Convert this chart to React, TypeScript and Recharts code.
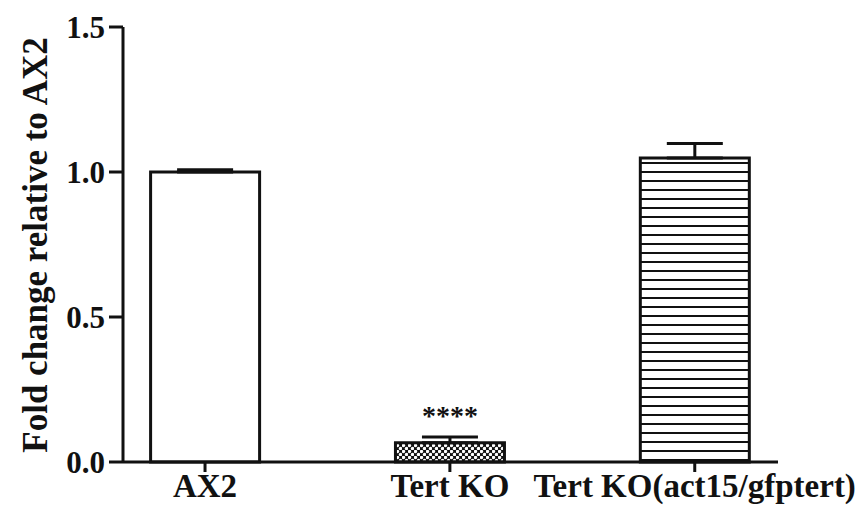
import React from 'react';
import {
  BarChart,
  Bar,
  XAxis,
  YAxis,
  ErrorBar,
  LabelList,
  Label,
} from 'recharts';

// Fold change (qPCR) per strain
const strains = ['AX2', 'Tert KO', 'Tert KO(act15/gfptert)'];
const foldChange = [1.0, 0.066, 1.048];
const sem = [0.008, 0.02, 0.05];
const significance = ['', '****', ''];
const fills = ['#ffffff', 'url(#checker)', 'url(#hlines)'];
const yTicks = [0, 0.5, 1.0, 1.5];

const data = strains.map((name, i) => ({
  pos: i,
  name,
  value: foldChange[i],
  err: [0, sem[i]],
  sig: significance[i],
  fill: fills[i],
}));

const FONT = '"Liberation Serif", "Times New Roman", serif';
const INK = '#111111';

export default function App() {
  return (
    <div style={{ position: 'absolute', left: 0, top: 0, background: '#fff' }}>
      <BarChart
        width={865}
        height={515}
        data={data}
        margin={{ top: 27, right: 87, bottom: 0, left: 0 }}
      >
        <defs>
          <pattern id="checker" width="6" height="6" patternUnits="userSpaceOnUse">
            <rect width="6" height="6" fill="#111" />
            <circle cx="1.5" cy="1.5" r="1.7" fill="#fff" />
            <circle cx="4.5" cy="4.5" r="1.7" fill="#fff" />
          </pattern>
          <pattern id="hlines" width="10" height="9" patternUnits="userSpaceOnUse">
            <rect width="10" height="9" fill="#fff" />
            <rect y="0" width="10" height="2" fill="#111" />
          </pattern>
        </defs>
        <XAxis
          dataKey="pos"
          type="number"
          domain={[-0.335, 2.34]}
          ticks={[0, 1, 2]}
          tickFormatter={(v: number) => strains[v]}
          height={53}
          axisLine={{ stroke: INK, strokeWidth: 3 }}
          tickLine={{ stroke: INK, strokeWidth: 3 }}
          tickSize={10}
          tickMargin={2}
          tick={{ fill: INK, fontSize: 33, fontWeight: 700, fontFamily: FONT }}
        />
        <YAxis
          domain={[0, 1.5]}
          ticks={yTicks}
          width={123}
          tickFormatter={(v: number) => v.toFixed(1)}
          axisLine={{ stroke: INK, strokeWidth: 3 }}
          tickLine={{ stroke: INK, strokeWidth: 3 }}
          tickSize={14}
          tickMargin={4}
          tick={{ fill: INK, fontSize: 31, fontWeight: 700, fontFamily: FONT }}
        >
          <Label
            content={() => (
              <text
                x={35}
                y={245}
                transform="rotate(-90 35 245)"
                textAnchor="middle"
                dominantBaseline="central"
                fill={INK}
                fontSize={35}
                fontWeight={700}
                fontFamily={FONT}
              >
                Fold change relative to AX2
              </text>
            )}
          />
        </YAxis>
        <Bar
          dataKey="value"
          barSize={109}
          stroke={INK}
          strokeWidth={3}
          isAnimationActive={false}
        >
          <ErrorBar
            dataKey="err"
            width={28}
            stroke={INK}
            strokeWidth={3}
            direction="y"
            isAnimationActive={false}
          />
          <LabelList
            dataKey="sig"
            position="top"
            offset={18}
            fill={INK}
            fontSize={28}
            fontWeight={700}
            fontFamily={FONT}
          />
        </Bar>
      </BarChart>
    </div>
  );
}
